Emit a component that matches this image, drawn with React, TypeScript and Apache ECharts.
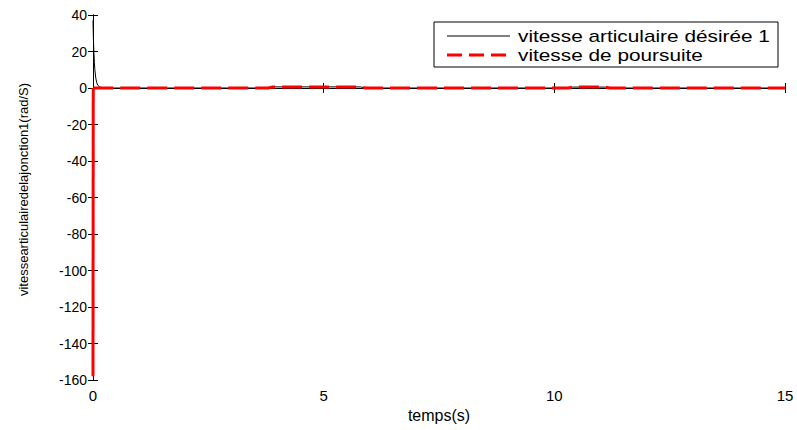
import React, { useEffect, useRef } from "react";
import * as echarts from "echarts";

const timeS = [0, 0.005, 0.01, 0.02, 0.03, 0.04, 0.06, 0.08, 0.1, 0.15, 0.2, 0.3, 1, 2, 3, 3.8, 3.9, 5.8, 5.9, 7, 8, 9, 10, 10.3, 10.4, 11.1, 11.2, 12, 13, 14, 15];
const desiredSpeed = [37, 31, 26, 19, 14, 10, 5.5, 3, 1.6, 0.5, 0.2, 0, 0, 0, 0, 0, 0.6, 0.6, 0, 0, 0, 0, 0, 0, 0.5, 0.5, 0, 0, 0, 0, 0];
const trackingSpeed = [-158, 0, 0, 0, 0, 0, 0, 0, 0, 0, 0, 0, 0, 0, 0, 0, 0.6, 0.6, 0, 0, 0, 0, 0, 0, 0.5, 0.5, 0, 0, 0, 0, 0];
const xTicks = [0, 5, 10, 15];
const yTicks = [-160, -140, -120, -100, -80, -60, -40, -20, 0, 20, 40];
const legendNames = ["vitesse articulaire désirée 1", "vitesse de poursuite"];

const FONT = "'Liberation Sans', Arial, sans-serif";

export default function App() {
  const ref = useRef<HTMLDivElement>(null);
  useEffect(() => {
    if (!ref.current) return;
    const chart = echarts.init(ref.current, undefined, { renderer: "svg" });
    const axisCommon = {
      axisLine: { show: true, lineStyle: { color: "#000", width: 1 } },
      axisTick: { show: true, inside: true, length: 5, lineStyle: { color: "#000" } },
      splitLine: { show: false },
    };
    const trackingPairs = timeS.map((t, i) => [t, trackingSpeed[i]]);
    chart.setOption({
      animation: false,
      backgroundColor: "#fff",
      textStyle: { fontFamily: FONT },
      grid: { left: 93, right: 12, top: 15, bottom: 50, containLabel: false },
      xAxis: [
        {
          type: "value",
          min: xTicks[0],
          max: xTicks[xTicks.length - 1],
          interval: 5,
          position: "bottom",
          ...axisCommon,
          axisLabel: { color: "#000", fontSize: 15, margin: 8, fontFamily: FONT },
          name: "temps(s)",
          nameLocation: "middle",
          nameGap: 20,
          nameTextStyle: { color: "#000", fontSize: 16, fontFamily: FONT },
        },
        {
          type: "value",
          min: xTicks[0],
          max: xTicks[xTicks.length - 1],
          interval: 5,
          position: "top",
          ...axisCommon,
          axisLabel: { show: false },
        },
      ],
      yAxis: [
        {
          type: "value",
          min: yTicks[0],
          max: yTicks[yTicks.length - 1],
          interval: 20,
          position: "left",
          ...axisCommon,
          axisLabel: { color: "#000", fontSize: 14, margin: 6, fontFamily: FONT },
          name: "vitessearticulairedelajonction1(rad/S)",
          nameLocation: "middle",
          nameGap: 63,
          nameTextStyle: { color: "#000", fontSize: 13, fontFamily: FONT, padding: [0, 0, 0, 16] },
        },
        {
          type: "value",
          min: yTicks[0],
          max: yTicks[yTicks.length - 1],
          interval: 20,
          position: "right",
          ...axisCommon,
          axisLabel: { show: false },
        },
      ],
      series: [
        {
          name: legendNames[0],
          type: "line",
          xAxisIndex: 0,
          yAxisIndex: 0,
          showSymbol: false,
          symbol: "none",
          data: timeS.map((t, i) => [t, desiredSpeed[i]]),
          lineStyle: { color: "#000", width: 1 },
          z: 2,
        },
        {
          name: legendNames[1],
          type: "line",
          xAxisIndex: 0,
          yAxisIndex: 0,
          showSymbol: false,
          symbol: "none",
          data: trackingPairs.slice(1),
          lineStyle: { color: "#ff0000", width: 3, type: [20, 7] },
          z: 3,
        },
        {
          name: legendNames[1] + " (saut initial)",
          type: "line",
          xAxisIndex: 0,
          yAxisIndex: 0,
          showSymbol: false,
          symbol: "none",
          data: trackingPairs.slice(0, 3),
          lineStyle: { color: "#ff0000", width: 3 },
          z: 3,
        },
      ],
      graphic: [
        {
          type: "group",
          z: 100,
          children: [
            {
              type: "rect",
              shape: { x: 434, y: 22, width: 344, height: 45 },
              style: { fill: "#fff", stroke: "#000", lineWidth: 1 },
            },
            {
              type: "line",
              shape: { x1: 447, y1: 36, x2: 510, y2: 36 },
              style: { stroke: "#000", lineWidth: 1 },
            },
            {
              type: "line",
              shape: { x1: 447, y1: 55, x2: 510, y2: 55 },
              style: { stroke: "#ff0000", lineWidth: 3, lineDash: [15, 7] },
            },
            {
              type: "text",
              x: 518,
              y: 36,
              scaleX: 1.3,
              style: { text: legendNames[0], fill: "#000", fontSize: 16, fontFamily: FONT, verticalAlign: "middle", align: "left" },
            },
            {
              type: "text",
              x: 518,
              y: 55,
              scaleX: 1.3,
              style: { text: legendNames[1], fill: "#000", fontSize: 16, fontFamily: FONT, verticalAlign: "middle", align: "left" },
            },
          ],
        },
      ],
    });
    return () => chart.dispose();
  }, []);
  return <div ref={ref} style={{ width: 797, height: 430, position: "absolute", left: 0, top: 0 }} />;
}
